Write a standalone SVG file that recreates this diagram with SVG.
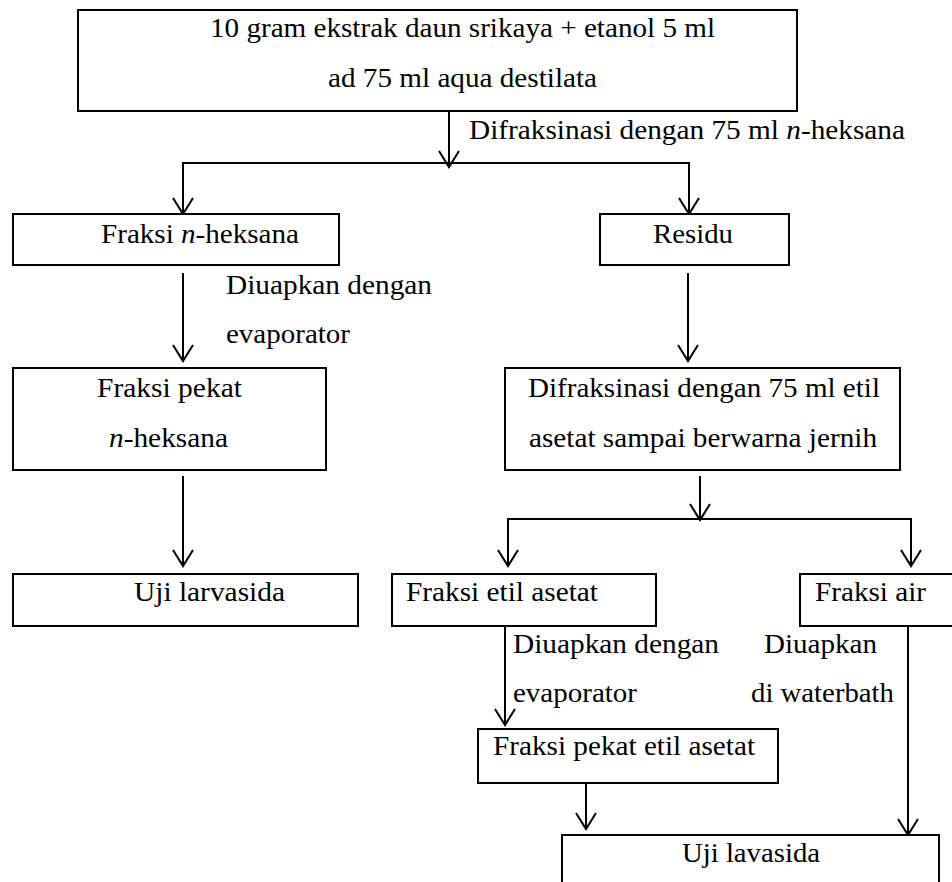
<svg xmlns="http://www.w3.org/2000/svg" width="952" height="882" viewBox="0 0 952 882">
<style>
.box{fill:#fff;stroke:#000;stroke-width:2}
.t{font-family:'Liberation Serif','Times New Roman',Times,serif;font-size:27px;fill:#000}
.i{font-style:italic}
.c{stroke:#000;stroke-width:2;fill:none}
.a{marker-end:url(#ah)}
</style>
<defs>
<marker id="ah" markerUnits="userSpaceOnUse" markerWidth="20" markerHeight="24" viewBox="0 0 20 24" refX="17" refY="12" orient="auto">
<path d="M1,2 L17,12 L1,22" fill="none" stroke="#000" stroke-width="2"/>
</marker>
</defs>
<rect width="952" height="882" fill="#fff"/>
<g id="connectors">
<line class="c a" x1="449" y1="111" x2="449" y2="167"/>
<polyline class="c" points="183,214 183,163 689,163 689,214"/>
<line class="c a" x1="183" y1="170" x2="183" y2="214"/>
<line class="c a" x1="689" y1="170" x2="689" y2="214"/>
<line class="c a" x1="183" y1="273" x2="183" y2="361"/>
<line class="c a" x1="688" y1="273" x2="688" y2="361"/>
<line class="c a" x1="700" y1="476" x2="700" y2="520"/>
<polyline class="c" points="508,519 911,519"/>
<line class="c" x1="508" y1="518" x2="508" y2="530"/>
<line class="c" x1="911" y1="518" x2="911" y2="530"/>
<line class="c a" x1="508" y1="528" x2="508" y2="566"/>
<line class="c a" x1="911" y1="528" x2="911" y2="566"/>
<line class="c a" x1="183" y1="476" x2="183" y2="566"/>
<line class="c a" x1="505" y1="626" x2="505" y2="725"/>
<line class="c a" x1="908" y1="626" x2="908" y2="835"/>
<line class="c a" x1="586" y1="783" x2="586" y2="829"/>
<text class="t" x="469" y="139" textLength="436" lengthAdjust="spacingAndGlyphs">Difraksinasi dengan 75 ml <tspan class="i">n</tspan>-heksana</text>
<text class="t" x="226" y="294" textLength="206" lengthAdjust="spacingAndGlyphs">Diuapkan dengan</text>
<text class="t" x="226" y="343" textLength="124" lengthAdjust="spacingAndGlyphs">evaporator</text>
<text class="t" x="513" y="653" textLength="206" lengthAdjust="spacingAndGlyphs">Diuapkan dengan</text>
<text class="t" x="513" y="702" textLength="124" lengthAdjust="spacingAndGlyphs">evaporator</text>
<text class="t" x="764" y="653" textLength="113" lengthAdjust="spacingAndGlyphs">Diuapkan</text>
<text class="t" x="751" y="702" textLength="143" lengthAdjust="spacingAndGlyphs">di waterbath</text>
</g>
<g id="n-start">
<rect class="box" x="78" y="10" width="719" height="101"/>
<text class="t" x="210" y="37" textLength="505" lengthAdjust="spacingAndGlyphs">10 gram ekstrak daun srikaya + etanol 5 ml</text>
<text class="t" x="328" y="87" textLength="269" lengthAdjust="spacingAndGlyphs">ad 75 ml aqua destilata</text>
</g>
<g id="n-fraksi-heksana">
<rect class="box" x="13" y="214" width="326" height="51"/>
<text class="t" x="101" y="243" textLength="198" lengthAdjust="spacingAndGlyphs">Fraksi <tspan class="i">n</tspan>-heksana</text>
</g>
<g id="n-residu">
<rect class="box" x="600" y="214" width="189" height="51"/>
<text class="t" x="653" y="243" textLength="80" lengthAdjust="spacingAndGlyphs">Residu</text>
</g>
<g id="n-pekat-heksana">
<rect class="box" x="13" y="368" width="313" height="102"/>
<text class="t" x="97" y="397" textLength="145" lengthAdjust="spacingAndGlyphs">Fraksi pekat</text>
<text class="t" x="109" y="447" textLength="119" lengthAdjust="spacingAndGlyphs"><tspan class="i">n</tspan>-heksana</text>
</g>
<g id="n-difraksinasi-etil">
<rect class="box" x="505" y="368" width="395" height="102"/>
<text class="t" x="528" y="397" textLength="352" lengthAdjust="spacingAndGlyphs">Difraksinasi dengan 75 ml etil</text>
<text class="t" x="529" y="447" textLength="348" lengthAdjust="spacingAndGlyphs">asetat sampai berwarna jernih</text>
</g>
<g id="n-uji-larvasida">
<rect class="box" x="13" y="574" width="345" height="52"/>
<text class="t" x="134" y="601" textLength="151" lengthAdjust="spacingAndGlyphs">Uji larvasida</text>
</g>
<g id="n-fraksi-etil">
<rect class="box" x="392" y="574" width="264" height="52"/>
<text class="t" x="406" y="601" textLength="192" lengthAdjust="spacingAndGlyphs">Fraksi etil asetat</text>
</g>
<g id="n-fraksi-air">
<rect class="box" x="800" y="574" width="170" height="52"/>
<text class="t" x="815" y="601" textLength="111" lengthAdjust="spacingAndGlyphs">Fraksi air</text>
</g>
<g id="n-pekat-etil">
<rect class="box" x="478" y="729" width="300" height="54"/>
<text class="t" x="493" y="755" textLength="262" lengthAdjust="spacingAndGlyphs">Fraksi pekat etil asetat</text>
</g>
<g id="n-uji-lavasida">
<rect class="box" x="562" y="835" width="377" height="70"/>
<text class="t" x="682" y="862" textLength="138" lengthAdjust="spacingAndGlyphs">Uji lavasida</text>
</g>
</svg>
